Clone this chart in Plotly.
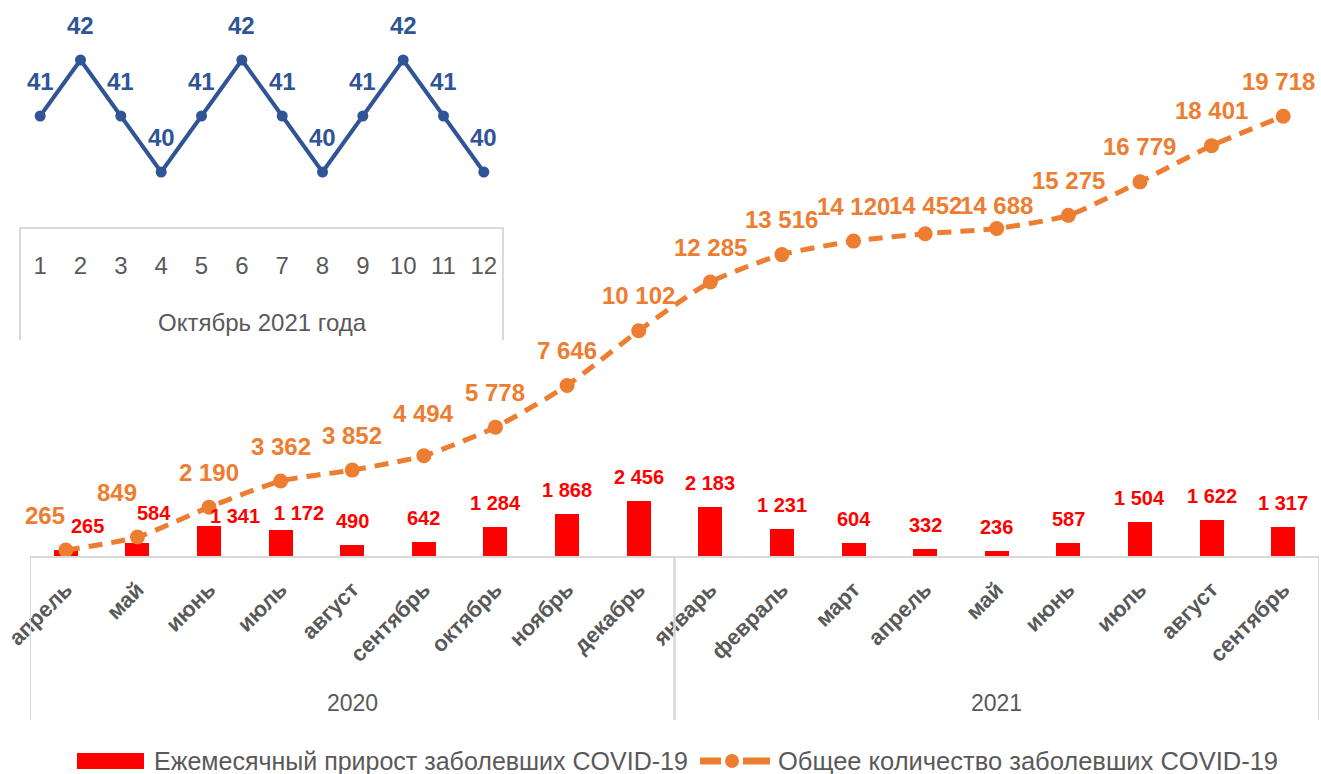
import plotly.graph_objects as go

# ---------------- data ----------------
months = ["апрель", "май", "июнь", "июль", "август", "сентябрь", "октябрь", "ноябрь", "декабрь",
          "январь", "февраль", "март", "апрель", "май", "июнь", "июль", "август", "сентябрь"]
years = ["2020"] * 9 + ["2021"] * 9
monthly_growth = [265, 584, 1341, 1172, 490, 642, 1284, 1868, 2456,
                  2183, 1231, 604, 332, 236, 587, 1504, 1622, 1317]
total_cases = [265, 849, 2190, 3362, 3852, 4494, 5778, 7646, 10102,
               12285, 13516, 14120, 14452, 14688, 15275, 16779, 18401, 19718]

oct_days = [1, 2, 3, 4, 5, 6, 7, 8, 9, 10, 11, 12]
oct_values = [41, 42, 41, 40, 41, 42, 41, 40, 41, 42, 41, 40]
oct_title = "Октябрь 2021 года"

bar_name = "Ежемесячный прирост заболевших COVID-19"
line_name = "Общее количество заболевших COVID-19"

# ---------------- style ----------------
W, H = 1321, 774
RED = "#FF0000"
ORANGE = "#ED7D31"
BLUE = "#2F5597"
GREY = "#595959"
AXIS_GREY = "#D9D9D9"
SANS = "Liberation Sans, Arial, sans-serif"

# label nudges (pixels) for crowded points: index -> (xshift, yshift)
bar_label_nudge = {0: (22, 24), 1: (17, 30), 2: (26, 10), 3: (18, 17)}
line_label_nudge = {0: (-21, 35), 1: (-20, 45), 5: (0, 42), 12: (0, 28), 13: (0, 23), 17: (-5, 35)}


def fmt(v):
    return f"{v:,}".replace(",", "\u00a0")


def px_x(p):
    return p / W


def px_y(p):
    return (H - p) / H


x_idx = list(range(len(months)))

fig = go.Figure()

fig.add_trace(go.Bar(
    x=x_idx, y=monthly_growth, name=bar_name, showlegend=False,
    marker=dict(color=RED, line=dict(width=0)),
    width=0.335, xaxis="x", yaxis="y",
))

fig.add_trace(go.Scatter(
    x=x_idx, y=total_cases, name=line_name, mode="lines+markers", showlegend=False,
    line=dict(color=ORANGE, width=5, dash="14px,9px", shape="spline", smoothing=0.6),
    marker=dict(color=ORANGE, size=15),
    xaxis="x", yaxis="y",
))

fig.add_trace(go.Scatter(
    x=oct_days, y=oct_values, mode="lines+markers", showlegend=False,
    line=dict(color=BLUE, width=4),
    marker=dict(color=BLUE, size=11),
    xaxis="x2", yaxis="y2",
))

annotations = []
for i, v in enumerate(monthly_growth):
    xs, ys = bar_label_nudge.get(i, (0, 24))
    annotations.append(dict(x=i, y=v, xref="x", yref="y", text=fmt(v), showarrow=False,
                            xanchor="center", yanchor="middle", xshift=xs, yshift=ys,
                            font=dict(family=SANS, size=20, color=RED, weight="bold")))
for i, v in enumerate(total_cases):
    xs, ys = line_label_nudge.get(i, (0, 35))
    annotations.append(dict(x=i, y=v, xref="x", yref="y", text=fmt(v), showarrow=False,
                            xanchor="center", yanchor="middle", xshift=xs, yshift=ys,
                            font=dict(family=SANS, size=24, color=ORANGE, weight="bold")))
for d, v in zip(oct_days, oct_values):
    annotations.append(dict(x=d, y=v, xref="x2", yref="y2", text=str(v), showarrow=False,
                            xanchor="center", yanchor="middle", yshift=35,
                            font=dict(family=SANS, size=24, color=BLUE, weight="bold")))

# year group labels and dividers
groups = []
for i, yv in enumerate(years):
    if not groups or groups[-1][0] != yv:
        groups.append([yv, i, i])
    else:
        groups[-1][2] = i

shapes = []
for yv, a, b in groups:
    annotations.append(dict(x=(a + b) / 2, y=px_y(703), xref="x", yref="paper", text=yv,
                            showarrow=False, xanchor="center", yanchor="middle",
                            font=dict(family=SANS, size=23, color=GREY)))
    for edge in (a - 0.5, b + 0.5):
        shapes.append(dict(type="line", xref="x", yref="paper", x0=edge, x1=edge,
                           y0=px_y(556), y1=px_y(720),
                           line=dict(color=AXIS_GREY, width=2)))

# inset box sides
for xp in (20, 503):
    shapes.append(dict(type="line", xref="paper", yref="paper", x0=px_x(xp), x1=px_x(xp),
                       y0=px_y(227), y1=px_y(340), line=dict(color=AXIS_GREY, width=2)))

annotations.append(dict(x=px_x(262), y=px_y(322), xref="paper", yref="paper", text=oct_title,
                        showarrow=False, xanchor="center", yanchor="middle",
                        font=dict(family=SANS, size=24, color=GREY)))

# custom legend (wide swatches as in the original)
LEG_Y = 761
shapes.append(dict(type="rect", xref="paper", yref="paper",
                   x0=px_x(77), x1=px_x(144), y0=px_y(769), y1=px_y(753),
                   fillcolor=RED, line=dict(width=0)))
for xa, xb in ((700, 721), (743, 770)):
    shapes.append(dict(type="line", xref="paper", yref="paper",
                       x0=px_x(xa), x1=px_x(xb), y0=px_y(LEG_Y), y1=px_y(LEG_Y),
                       line=dict(color=ORANGE, width=7)))
shapes.append(dict(type="circle", xref="paper", yref="paper",
                   x0=px_x(725), x1=px_x(739), y0=px_y(LEG_Y + 7), y1=px_y(LEG_Y - 7),
                   fillcolor=ORANGE, line=dict(width=0)))
annotations.append(dict(x=px_x(152), y=px_y(LEG_Y), xref="paper", yref="paper", text=bar_name,
                        showarrow=False, xanchor="left", yanchor="middle",
                        font=dict(family=SANS, size=25, color=GREY)))
annotations.append(dict(x=px_x(776), y=px_y(LEG_Y), xref="paper", yref="paper", text=line_name,
                        showarrow=False, xanchor="left", yanchor="middle",
                        font=dict(family=SANS, size=25.5, color=GREY)))

fig.update_layout(
    width=W, height=H,
    margin=dict(l=0, r=0, t=0, b=0, autoexpand=False),
    paper_bgcolor="white", plot_bgcolor="rgba(0,0,0,0)",
    bargap=0,
    xaxis=dict(domain=[px_x(30), px_x(1319)], range=[-0.5, 17.5],
               tickmode="array", tickvals=x_idx, ticktext=months, tickangle=-45,
               tickfont=dict(family=SANS, size=22, color=GREY, weight="bold"),
               showline=True, linecolor=AXIS_GREY, linewidth=2, ticks="",
               showgrid=False, zeroline=False, ticklabelstandoff=10, anchor="y",
               automargin=False),
    yaxis=dict(domain=[px_y(556), 1], range=[0, 556 / 0.0223], visible=False,
               automargin=False),
    xaxis2=dict(domain=[px_x(20), px_x(504)], range=[0.5, 12.5],
                tickmode="array", tickvals=oct_days, ticktext=[str(d) for d in oct_days],
                tickfont=dict(family=SANS, size=24, color=GREY),
                showline=True, linecolor=AXIS_GREY, linewidth=2, ticks="",
                showgrid=False, zeroline=False, ticklabelstandoff=16, anchor="y2",
                automargin=False),
    yaxis2=dict(domain=[px_y(227), 1], range=[40 - 55 / 56, 40 - 55 / 56 + 227 / 56],
                visible=False, anchor="x2", automargin=False),
    annotations=annotations,
    shapes=shapes,
    showlegend=False,
)

fig.write_html("out.html", config={"displayModeBar": False},
               post_script="document.body.style.margin='0px';")
